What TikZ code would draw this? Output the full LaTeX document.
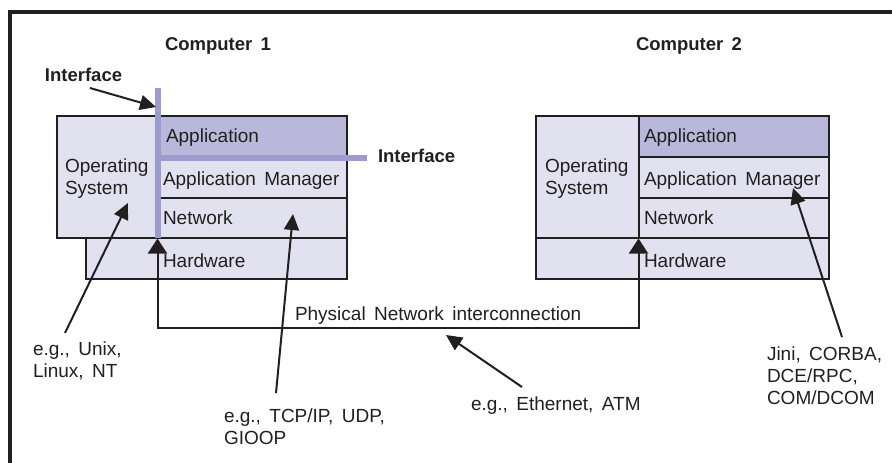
\documentclass[tikz,border=0pt]{standalone}
\usepackage{fontspec}
\setmainfont[WordSpace=1.6]{Liberation Sans}
\usetikzlibrary{arrows.meta}

\definecolor{inkline}{HTML}{231F20}
\definecolor{layerfill}{HTML}{E2E1F0}
\definecolor{appfill}{HTML}{B9B8DA}
\definecolor{ifline}{HTML}{9D9ACD}

% multi-line label whose baseline is that of its first line
\newcommand\stackedtext[1]{\begin{tabular}[t]{@{}l@{}}#1\end{tabular}}

\begin{document}
\begin{tikzpicture}[x=1pt, y=-1pt,
  layer/.style={rectangle, draw=inkline, line width=2.2pt, fill=layerfill,
    inner sep=0pt, outer sep=0pt, anchor=north west},
  applayer/.style={layer, fill=appfill},
  txt/.style={anchor=base west, inner sep=0pt, outer sep=0pt, text=inkline,
    font=\fontsize{19}{22}\selectfont},
  heading/.style={txt, font=\fontsize{18.5}{22}\selectfont\bfseries},
  ifbar/.style={draw=ifline, line width=5.7pt, line cap=butt},
  pointer/.style={draw=inkline, line width=2pt,
    -{Triangle[length=16pt, width=15pt]}},
  wire/.style={draw=inkline, line width=2pt}
]
\useasboundingbox (0,0) rectangle (892,463);

% frame on the left and top edges
\draw[inkline, line width=3.6pt, line join=miter] (10,463) -- (10,11.7) -- (892,11.7);

% ---- Computer 1 layer stack ----
\node[layer, minimum width=101pt, minimum height=122pt] (c1os)  at (57,116) {};
\node[applayer, minimum width=189pt, minimum height=41pt] (c1app) at (158,116) {};
\node[layer, minimum width=189pt, minimum height=41pt] (c1mgr) at (158,157) {};
\node[layer, minimum width=189pt, minimum height=40pt] (c1net) at (158,198) {};
\node[layer, minimum width=261pt, minimum height=41pt] (c1hw)  at (86,238) {};

% interface bars
\coordinate (ifvtop) at (158,88);
\coordinate (ifvbot) at (158,238);
\coordinate (ifhleft) at (158,157.8);
\coordinate (ifhright) at (366.7,157.8);
\draw[ifbar] (ifvtop) -- (ifvbot);
\draw[ifbar] (ifhleft) -- (ifhright);

% ---- Computer 2 layer stack ----
\node[layer, minimum width=103pt, minimum height=122pt] (c2os)  at (536,116) {};
\node[applayer, minimum width=190pt, minimum height=41pt] (c2app) at (639,116) {};
\node[layer, minimum width=190pt, minimum height=41pt] (c2mgr) at (639,157) {};
\node[layer, minimum width=190pt, minimum height=40pt] (c2net) at (639,198) {};
\node[layer, minimum width=293pt, minimum height=41pt] (c2hw)  at (536,238) {};

% ---- headings ----
\node[heading] (comp1) at (165,50.7) {Computer 1};
\node[heading] (comp2) at (636,50.7) {Computer 2};
\node[heading] (if1) at (45,81) {Interface};
\node[heading] (if2) at (378,162.3) {Interface};

% ---- layer labels ----
\node[txt] (t1os)  at (65,172.7) {\stackedtext{Operating\\System}};
\node[txt] (t1app) at (166,142) {Application};
\node[txt] (t1mgr) at (163,185) {Application Manager};
\node[txt] (t1net) at (163,224) {Network};
\node[txt] (t1hw)  at (163,267.7) {Hardware};

\node[txt] (t2os)  at (545,172.7) {\stackedtext{Operating\\System}};
\node[txt] (t2app) at (644,142) {Application};
\node[txt] (t2mgr) at (644,185) {Application Manager};
\node[txt] (t2net) at (644,224) {Network};
\node[txt] (t2hw)  at (644,267.7) {Hardware};

% ---- physical interconnection ----
\coordinate (c1port) at (157.5,238.5);
\coordinate (c2port) at (638.5,238.5);
\coordinate (rail) at (0,327.7);
\draw[wire, {Triangle[length=15pt, width=19pt]}-{Triangle[length=15pt, width=19pt]}]
  (c1port) -- (c1port |- rail) -- (c2port |- rail) -- (c2port);
\node[txt] (phys) at (295,320.7) {Physical Network interconnection};

% ---- annotations ----
\node[txt] (osnote)  at (33,355)  {\stackedtext{e.g., Unix,\\Linux, NT}};
\node[txt] (tcpnote) at (224,422.3) {\stackedtext{e.g., TCP/IP, UDP,\\GIOOP}};
\node[txt] (ethnote) at (471,410) {e.g., Ethernet, ATM};
\node[txt] (mwnote)  at (767,360) {\stackedtext{Jini, CORBA,\\DCE/RPC,\\COM/DCOM}};

% ---- pointers ----
\coordinate (if1tail) at (90,88);
\coordinate (if1tip)  at (156,107);
\coordinate (ostail)  at (65,333);
\coordinate (ostip)   at (128,203);
\coordinate (tcptail) at (276,393);
\coordinate (tcptip)  at (293,214);
\coordinate (ethtail) at (522,387);
\coordinate (ethtip)  at (446,335);
\coordinate (mwtail)  at (842,337);
\coordinate (mwtip)   at (793,188);

\draw[pointer] (if1tail) -- (if1tip);
\draw[pointer] (ostail) -- (ostip);
\draw[pointer] (tcptail) -- (tcptip);
\draw[pointer] (ethtail) -- (ethtip);
\draw[pointer] (mwtail) -- (mwtip);
\end{tikzpicture}
\end{document}
